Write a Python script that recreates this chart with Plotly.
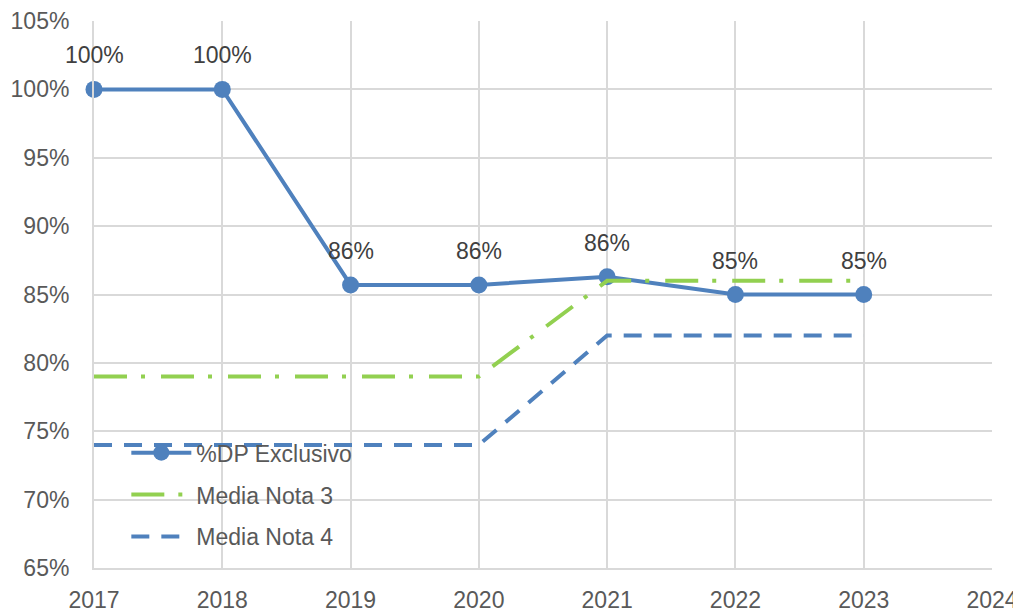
import plotly.graph_objects as go

years = [2017, 2018, 2019, 2020, 2021, 2022, 2023]
dp_exclusivo = [1.00, 1.00, 0.857, 0.857, 0.863, 0.85, 0.85]
dp_labels = ['100%', '100%', '86%', '86%', '86%', '85%', '85%']
media_nota3 = [0.79, 0.79, 0.79, 0.79, 0.86, 0.86, 0.86]
media_nota4 = [0.74, 0.74, 0.74, 0.74, 0.82, 0.82, 0.82]

BLUE = '#4F81BD'
GREEN = '#92D050'
FONT = 'Liberation Sans'
FS = 23

fig = go.Figure()
fig.add_trace(go.Scatter(
    x=years, y=dp_exclusivo,
    mode='lines+markers',
    name='%DP Exclusivo',
    legendgroup='a',
    line=dict(color=BLUE, width=4),
    marker=dict(color=BLUE, size=17),
    cliponaxis=False,
))
fig.add_trace(go.Scatter(
    x=years, y=media_nota3,
    mode='lines',
    name='Media Nota 3',
    legendgroup='b',
    line=dict(color=GREEN, width=4, dash='33px,14px,4px,16px'),
))
fig.add_trace(go.Scatter(
    x=years, y=media_nota4,
    mode='lines',
    name='Media Nota 4',
    legendgroup='c',
    line=dict(color=BLUE, width=4, dash='18px,12px'),
))

# data labels above the %DP points
for xv, yv, lab in zip(years, dp_exclusivo, dp_labels):
    fig.add_annotation(x=xv, y=yv, text=lab, showarrow=False, yshift=34,
                       font=dict(size=FS, color='#404040', family=FONT))

fig.update_xaxes(range=[2017, 2024], dtick=1, tick0=2017,
                 showgrid=True, gridcolor='#D9D9D9', gridwidth=2,
                 showline=True, linecolor='#D9D9D9', linewidth=2,
                 zeroline=False, ticks='', automargin=False,
                 ticklabelstandoff=10,
                 tickfont=dict(size=FS, color='#595959', family=FONT))
fig.update_yaxes(range=[0.65, 1.05], dtick=0.05, tickformat='.0%',
                 showgrid=True, gridcolor='#D9D9D9', gridwidth=2,
                 showline=True, linecolor='#D9D9D9', linewidth=2,
                 zeroline=False, ticks='', automargin=False,
                 ticklabelstandoff=18,
                 tickfont=dict(size=FS, color='#595959', family=FONT))
# page body adds ~8px offset, so the figure is sized to fit inside the window
fig.update_layout(
    width=1013, height=605,
    margin=dict(l=86, r=29, t=13, b=45),
    plot_bgcolor='white', paper_bgcolor='white',
    font=dict(family=FONT, color='#595959'),
    showlegend=True,
    legend=dict(x=0.036, y=0.25, xanchor='left', yanchor='top',
                bgcolor='rgba(0,0,0,0)', borderwidth=0,
                font=dict(size=FS, color='#595959', family=FONT),
                tracegroupgap=9, itemwidth=60),
)

fig.write_html("out.html")
